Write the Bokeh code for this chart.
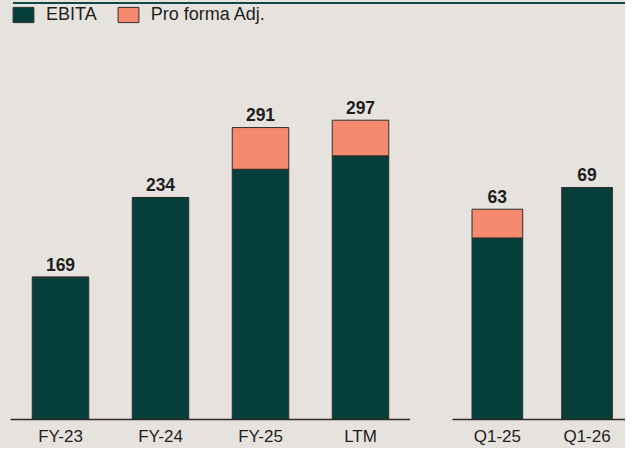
from bokeh.plotting import figure
from bokeh.layouts import row, column
from bokeh.models import (ColumnDataSource, Legend, LegendItem, FixedTicker,
                          Range1d, Spacer)
from bokeh.core.properties import value
from bokeh.embed import file_html
from bokeh.resources import INLINE

# ---- data ----
annual_periods = ["FY-23", "FY-24", "FY-25", "LTM"]
annual_ebita = [169, 234, 257, 268]
annual_adj = [0, 0, 34, 29]
annual_total = [169, 234, 291, 297]

quarter_periods = ["Q1-25", "Q1-26"]
quarter_ebita = [55, 69]
quarter_adj = [8, 0]
quarter_total = [63, 69]

series_names = ["EBITA", "Pro forma Adj."]

# ---- styling ----
BG = "#E6E3DF"
GREEN = "#063F3A"
SALMON = "#F58A6E"
EDGE = "#2E2E2E"
TEXT = "#1E1E1E"
LINE = "#0D4A45"
FONT = "Liberation Sans"
BAR_W = 0.565
FIG_H = 444


def make_panel(periods, ebita, adj, total, width, min_left, x_end, y_start, y_end):
    pos = [i + 0.5 for i in range(len(periods))]
    src = ColumnDataSource(dict(x=pos, ebita=ebita, adj=adj, total=total,
                                lbl=[str(t) for t in total]))
    p = figure(width=width, height=FIG_H, x_range=Range1d(0, x_end),
               y_range=Range1d(y_start, y_end),
               output_backend="svg", toolbar_location=None,
               min_border_left=min_left, min_border_right=0,
               min_border_top=0, min_border_bottom=24,
               background_fill_color=BG, border_fill_color=BG,
               outline_line_color=None,
               styles={"background-color": BG})
    rs = p.vbar_stack(["ebita", "adj"], x="x", width=BAR_W, source=src,
                      fill_color=[GREEN, SALMON], line_color=EDGE,
                      line_width=1)
    p.text(x="x", y="total", text="lbl", source=src,
           text_font=value(FONT), text_font_style="bold",
           text_font_size="17.5px", text_color=TEXT,
           text_align="center", text_baseline="alphabetic", y_offset=-13)
    p.yaxis.visible = False
    p.xgrid.visible = False
    p.ygrid.visible = False
    ax = p.xaxis[0]
    ax.ticker = FixedTicker(ticks=pos)
    ax.major_label_overrides = {x: lab for x, lab in zip(pos, periods)}
    ax.major_tick_line_color = None
    ax.minor_tick_line_color = None
    ax.axis_line_color = "#2A2A2A"
    ax.axis_line_width = 1.5
    ax.major_label_standoff = 1
    ax.major_label_text_font = FONT
    ax.major_label_text_font_size = "17px"
    ax.major_label_text_color = TEXT
    return p, rs


left, rs = make_panel(annual_periods, annual_ebita, annual_adj, annual_total,
                      width=410, min_left=10, x_end=4,
                      y_start=53.04, y_end=391.3)
right, _ = make_panel(quarter_periods, quarter_ebita, quarter_adj, quarter_total,
                      width=215, min_left=42, x_end=173 / 89.7,
                      y_start=4.44, y_end=120.0)

legend = Legend(items=[LegendItem(label=series_names[0], renderers=[rs[0]]),
                       LegendItem(label=series_names[1], renderers=[rs[1]])],
                location="top_left", orientation="horizontal",
                margin=0, padding=4, spacing=18,
                glyph_width=26, glyph_height=19, label_standoff=10,
                label_text_font=FONT, label_text_font_size="18px",
                label_text_color=TEXT,
                border_line_color=None, background_fill_alpha=0)
left.add_layout(legend)

top_rows = column(
    Spacer(width=625, height=2, styles={"background-color": BG}),
    row(Spacer(width=13, height=2, styles={"background-color": BG}),
        Spacer(width=612, height=2, styles={"background-color": LINE}),
        styles={"background-color": BG}),
    styles={"background-color": BG},
)

layout = column(top_rows,
                row(left, right, styles={"background-color": BG}),
                styles={"background-color": BG})

open("out.html", "w").write(file_html(layout, INLINE))
